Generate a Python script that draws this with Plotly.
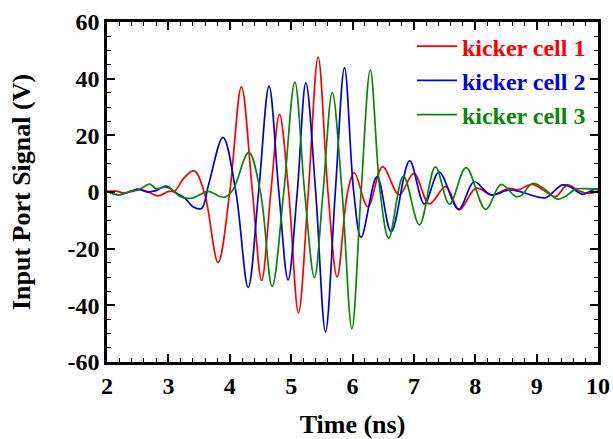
import plotly.graph_objects as go

# ---- data ----
red_t = [2.00, 2.15, 2.29, 2.47, 2.62, 2.83, 3.00, 3.10, 3.25, 3.42, 3.59, 3.81, 4.00, 4.19, 4.37,
         4.52, 4.67, 4.81, 4.96, 5.12, 5.28, 5.44, 5.60, 5.75, 5.92, 6.03, 6.25, 6.49, 6.76, 7.00,
         7.25, 7.52, 7.74, 8.01, 8.28, 8.55, 8.70, 8.93, 9.12, 9.31, 9.50, 9.68, 9.85, 10.00]
red_v = [0.2, 0.3, -0.4, 0.8, 0.5, -1.4, 0.2, 0.3, 4.8, 7.5, -0.5, -24.9, 0.0, 37.1, 0.0,
         -31.2, 0.0, 27.4, 0.0, -42.7, 0.0, 47.6, 0.0, -30.0, 0.0, 6.8, -5.2, 8.9, -1.0, 6.6,
         -4.2, 1.9, -6.3, 1.3, -1.0, 1.3, 0.8, 2.7, 0.5, -1.6, 2.5, 0.5, -0.5, 0.3]

blue_t = [2.00, 2.18, 2.38, 2.51, 2.65, 2.80, 2.97, 3.10, 3.27, 3.40, 3.54, 3.66, 3.89, 4.10, 4.30,
          4.47, 4.64, 4.80, 4.95, 5.10, 5.24, 5.40, 5.56, 5.72, 5.87, 6.02, 6.14, 6.40, 6.63, 6.93,
          7.17, 7.41, 7.73, 7.98, 8.25, 8.55, 8.75, 8.99, 9.15, 9.42, 9.55, 9.75, 9.91, 10.00]
blue_v = [0.3, -1.0, 0.2, 1.0, 0.0, 0.5, 2.1, 0.0, -2.2, -5.2, -5.8, 3.0, 19.3, 0.0, -33.7,
          0.0, 37.4, 0.0, -31.0, 0.0, 38.5, 0.0, -49.4, 0.0, 43.9, 0.0, -16.0, 5.4, -14.0, 11.0,
          -4.2, 7.0, -6.1, 3.6, -1.0, 0.7, 0.0, -1.6, -2.0, 2.5, 1.8, -0.8, 0.7, 1.0]

green_t = [2.00, 2.18, 2.35, 2.50, 2.70, 2.80, 2.94, 3.05, 3.19, 3.38, 3.51, 3.65, 3.84, 3.92, 4.05,
           4.31, 4.50, 4.69, 4.88, 5.06, 5.22, 5.38, 5.52, 5.67, 5.83, 5.99, 6.14, 6.29, 6.45, 6.59,
           6.83, 7.09, 7.35, 7.58, 7.85, 8.17, 8.42, 8.66, 8.75, 8.93, 9.10, 9.34, 9.45, 9.64, 9.80, 10.00]
green_v = [0.3, -1.0, 0.0, 0.6, 2.8, 1.2, 1.7, 1.0, -1.6, -2.2, -1.0, 0.2, -1.6, -1.8, 0.7,
           14.0, 0.0, -33.3, 0.0, 38.8, 0.0, -30.2, 0.0, 35.1, 0.0, -48.2, 0.0, 43.0, 0.0, -16.3,
           5.6, -11.6, 8.9, -4.3, 8.6, -6.1, 2.7, -1.6, -1.2, 3.0, 1.5, -2.5, -1.8, 1.0, 1.2, 1.0]

series_names = ["kicker cell 1", "kicker cell 2", "kicker cell 3"]
series_colors = ["#ff0000", "#0000dd", "#0a850a"]

y_tickvals = [-60, -40, -20, 0, 20, 40, 60]
y_ticktext = ["-60", "-40", "-20", "0", "20", "40", "60"]
x_tickvals = [2, 3, 4, 5, 6, 7, 8, 9, 10]
x_ticktext = ["2", "3", "4", "5", "6", "7", "8", "9", "10"]

FONT = "Liberation Serif, Times New Roman, serif"

fig = go.Figure()
for i, (t, v) in enumerate([(red_t, red_v), (blue_t, blue_v), (green_t, green_v)]):
    fig.add_trace(go.Scatter(
        x=t, y=v, mode="lines",
        line=dict(color=series_colors[i], width=1.7, shape="spline", smoothing=1.0),
        name="<b><span style='color:%s'>%s</span></b>" % (series_colors[i], series_names[i]),
        legendgroup="g%d" % i,
    ))

axis_common = dict(
    showline=True, linecolor="black", linewidth=2.5, mirror="allticks",
    ticks="inside", ticklen=8, tickwidth=1.5, tickcolor="black",
    showgrid=False, zeroline=False, automargin=False,
    tickfont=dict(family=FONT, size=24, color="black", weight="bold"),
)

fig.update_xaxes(
    range=[2, 10], tickmode="array", tickvals=x_tickvals, ticktext=x_ticktext,
    minor=dict(tickmode="linear", tick0=2, dtick=0.2, ticks="inside", ticklen=4,
               tickwidth=1.2, tickcolor="black"),
    title=dict(text="<b>Time (ns)</b>", font=dict(family=FONT, size=26, color="black"),
               standoff=18),
    **axis_common,
)
fig.update_yaxes(
    range=[-60, 60], tickmode="array", tickvals=y_tickvals, ticktext=y_ticktext,
    minor=dict(tickmode="linear", tick0=0, dtick=5, ticks="inside", ticklen=4,
               tickwidth=1.2, tickcolor="black"),
    title=dict(text="<b>Input Port Signal (V)</b>", font=dict(family=FONT, size=26, color="black"),
               standoff=30),
    **axis_common,
)

fig.update_layout(
    width=613, height=439,
    margin=dict(l=107, r=15, t=22, b=77, autoexpand=False),
    paper_bgcolor="white", plot_bgcolor="white",
    showlegend=True,
    legend=dict(x=0.621, y=0.994, xanchor="left", yanchor="top",
                bgcolor="rgba(0,0,0,0)", borderwidth=0,
                font=dict(family=FONT, size=24),
                tracegroupgap=0, itemwidth=40),
)

fig.write_html("out.html")
